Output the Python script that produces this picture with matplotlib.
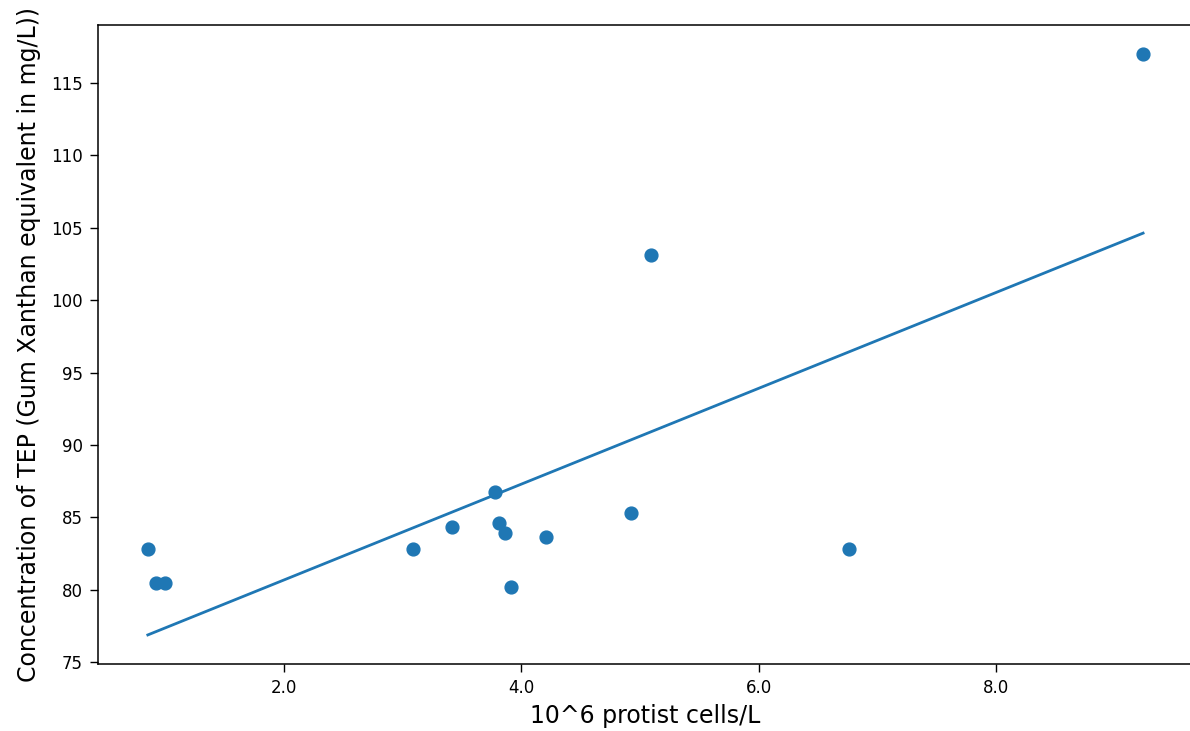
import numpy as np
import matplotlib
matplotlib.use("Agg")
import matplotlib.pyplot as plt
from matplotlib.ticker import FormatStrFormatter

# Protist abundance (10^6 cells/L) and TEP concentration (mg/L Gum Xanthan eq.)
protist_cells = [0.852, 0.92, 0.996, 3.089, 3.418, 3.78, 3.81, 3.865,
                 3.916, 4.21, 4.92, 5.09, 6.76, 9.24]
tep_conc = [82.85, 80.44, 80.44, 82.85, 84.37, 86.78, 84.64, 83.95,
            80.17, 83.68, 85.33, 103.1, 82.85, 117.0]

x = np.array(protist_cells)
y = np.array(tep_conc)

# Ordinary least-squares fit
slope, intercept = np.polyfit(x, y, 1)

fig = plt.figure(figsize=(11.9, 7.31), dpi=100)
ax = fig.add_axes([0.0824, 0.0917, 0.920, 0.874])

ax.scatter(x, y, s=85, color="#1f77b4", zorder=3)
ax.plot(x, slope * x + intercept, color="#1f77b4", linewidth=2.0)

for side in ax.spines.values():
    side.set_linewidth(1.1)

ax.xaxis.set_major_formatter(FormatStrFormatter("%.1f"))
ax.tick_params(axis="both", labelsize=12, length=5.5, pad=5.5, width=1.0)
ax.set_xlabel("10^6 protist cells/L", fontsize=17, labelpad=5)
ax.set_ylabel("Concentration of TEP (Gum Xanthan equivalent in mg/L))",
              fontsize=17, labelpad=7)

fig.savefig("out.png", dpi=100)
